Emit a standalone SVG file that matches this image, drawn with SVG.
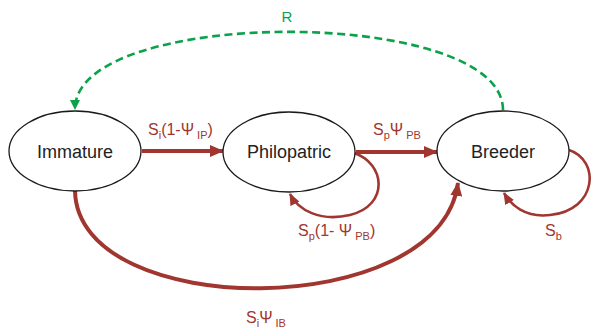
<svg xmlns="http://www.w3.org/2000/svg" width="595" height="333" viewBox="0 0 595 333">
<style>
.node{fill:#fff;stroke:#1a1a1a;stroke-width:1.3}
.nl{font-family:"Liberation Sans",Arial,sans-serif;font-size:18px;fill:#222;text-anchor:middle}
.lab{font-family:"Liberation Sans",Arial,sans-serif;font-size:16px;fill:#A0362F}
.sub{font-size:11px}
.red{fill:none;stroke:#A0362F}
.green{fill:none;stroke:#0BA24A;stroke-width:2.6;stroke-dasharray:8 4.5}
</style>
<defs>
<marker id="ar" markerUnits="userSpaceOnUse" markerWidth="14" markerHeight="12" refX="13" refY="6" orient="auto" viewBox="0 0 14 12">
<path d="M0,0 L14,6 L0,12 z" fill="#A0362F"/>
</marker>
<marker id="ars" markerUnits="userSpaceOnUse" markerWidth="12" markerHeight="10" refX="11" refY="5" orient="auto" viewBox="0 0 12 10">
<path d="M0,0 L12,5 L0,10 z" fill="#A0362F"/>
</marker>
<marker id="ag" markerUnits="userSpaceOnUse" markerWidth="10" markerHeight="10" refX="9" refY="5" orient="auto" viewBox="0 0 10 10">
<path d="M0,0 L10,5 L0,10 z" fill="#0BA24A"/>
</marker>
</defs>
<g id="connectors">
<path class="green" d="M503,110 C503,6 75,6 75,109" marker-end="url(#ag)"/>
<path class="red" stroke-width="4" d="M142,151 L223,151" marker-end="url(#ar)"/>
<path class="red" stroke-width="4" d="M356,152 L437,152" marker-end="url(#ar)"/>
<path class="red" stroke-width="2.6" d="M354,153 C385,163 390,205 350,215 C320,222 298,210 290,194" marker-end="url(#ars)"/>
<path class="red" stroke-width="2.6" d="M569,150 C600,160 598,210 550,215 C525,218 511,205 504,193" marker-end="url(#ars)"/>
<path class="red" stroke-width="4" d="M75,191 C78,322 440,322 458,183" marker-end="url(#ar)"/>
</g>
<g id="immature">
<ellipse class="node" cx="75" cy="151" rx="66" ry="40"/>
<text class="nl" x="75" y="158">Immature</text>
</g>
<g id="philopatric">
<ellipse class="node" cx="289" cy="152" rx="66" ry="40"/>
<text class="nl" x="289" y="158">Philopatric</text>
</g>
<g id="breeder">
<ellipse class="node" cx="503" cy="151" rx="66" ry="40"/>
<text class="nl" x="503" y="158">Breeder</text>
</g>
<g id="labels">
<text x="287" y="22" font-family="Liberation Sans,Arial,sans-serif" font-size="15" fill="#0BA24A" text-anchor="middle">R</text>
<text class="lab" x="148" y="135">S<tspan class="sub" dy="4">i</tspan><tspan dy="-4">(1-Ψ</tspan><tspan class="sub" dy="4"> IP</tspan><tspan dy="-4">)</tspan></text>
<text class="lab" x="373" y="135">S<tspan class="sub" dy="4">p</tspan><tspan dy="-4">Ψ</tspan><tspan class="sub" dy="4"> PB</tspan></text>
<text class="lab" x="298" y="236">S<tspan class="sub" dy="4">p</tspan><tspan dy="-4">(1- Ψ</tspan><tspan class="sub" dy="4"> PB</tspan><tspan dy="-4">)</tspan></text>
<text class="lab" x="545" y="236">S<tspan class="sub" dy="4">b</tspan></text>
<text class="lab" x="246" y="323">S<tspan class="sub" dy="4">i</tspan><tspan dy="-4">Ψ</tspan><tspan class="sub" dy="4"> IB</tspan></text>
</g>
</svg>
